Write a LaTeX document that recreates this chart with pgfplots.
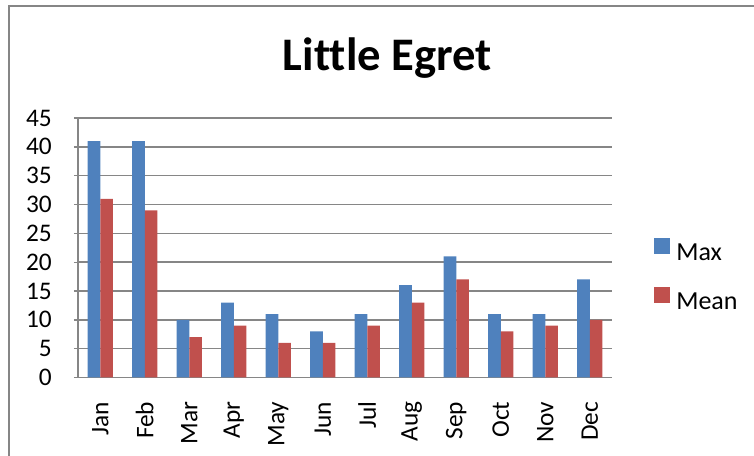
\documentclass[border=0pt]{standalone}
\usepackage{fontspec}
\setmainfont{Carlito}[Ligatures=NoCommon]
\usepackage{pgfplots}
\pgfplotsset{compat=1.18}
\definecolor{barblue}{HTML}{4F81BD}
\definecolor{barred}{HTML}{C0504D}
\definecolor{gridgray}{HTML}{868686}
\begin{document}
\begin{tikzpicture}
\useasboundingbox (0,0) rectangle (565.5pt,342pt);
\draw[gridgray, line width=1.2pt] (6.75pt,0) -- (6.75pt,337.5pt) -- (565.5pt,337.5pt);
\node[font=\fontsize{35}{42}\selectfont\bfseries, anchor=base] at (290.5pt,289pt) {Little Egret};
\begin{axis}[
  at={(58.5pt,58.875pt)}, anchor=south west,
  scale only axis, width=400.5pt, height=194.6pt,
  ybar=0pt, bar width=9.5pt,
  xmin=-0.5, xmax=11.5, ymin=0, ymax=45,
  ytick={0,5,...,45},
  xtick={0,...,11},
  xticklabels={Jan,Feb,Mar,Apr,May,Jun,Jul,Aug,Sep,Oct,Nov,Dec},
  ymajorgrids, grid style={gridgray, line width=1.1pt},
  axis x line*=bottom, axis y line*=left,
  axis line style={gridgray, line width=1.1pt, -},
  xtick style={draw=none},
  ytick style={gridgray, line width=1pt},
  tick align=outside, major tick length=3pt,
  tick label style={font=\fontsize{19}{23}\selectfont},
  /pgf/number format/assume math mode=true,
  yticklabel style={anchor=east, inner sep=0pt, xshift=-16.5pt},
  xticklabel style={rotate=90, anchor=east, inner sep=0pt},
  xticklabel shift=15pt,
  legend style={at={(1.0787,0.39)}, anchor=west, draw=none, fill=none,
    inner sep=0pt, row sep=15.75pt, column sep=4.5pt,
    font=\fontsize{19.5}{23}\selectfont,
    nodes={inner sep=0pt, text height=14pt, text depth=4pt}},
  legend image code/.code={\fill[#1] (0pt,0pt) rectangle (12pt,12pt);},
  legend cell align=left,
]
\addplot[fill=barblue, draw=none] coordinates {(0,41) (1,41) (2,10) (3,13) (4,11) (5,8) (6,11) (7,16) (8,21) (9,11) (10,11) (11,17)};
\addlegendentry{Max}
\addplot[fill=barred, draw=none] coordinates {(0,31) (1,29) (2,7) (3,9) (4,6) (5,6) (6,9) (7,13) (8,17) (9,8) (10,9) (11,10)};
\addlegendentry{Mean}
\end{axis}
\end{tikzpicture}
\end{document}
